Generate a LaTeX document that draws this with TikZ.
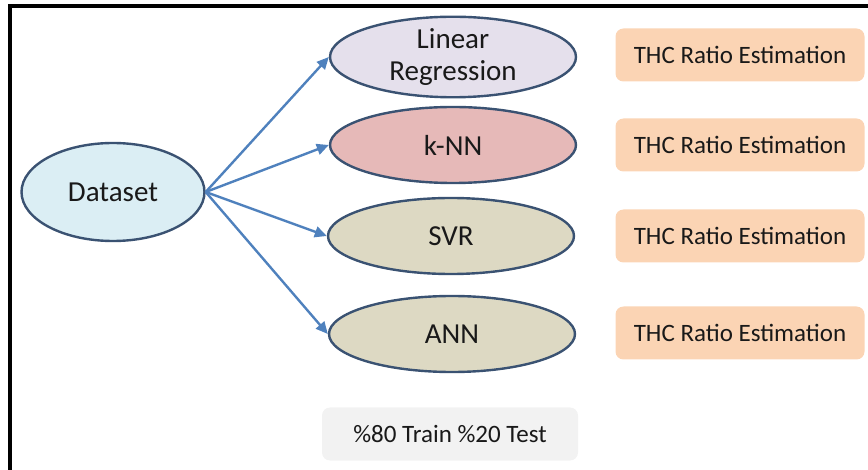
\documentclass[tikz,border=0pt]{standalone}
\usepackage{fontspec}
\setmainfont{Carlito}
\usetikzlibrary{shapes.geometric,arrows.meta}
\definecolor{edgeblue}{RGB}{58,82,114}
\definecolor{arrowblue}{RGB}{79,129,189}
\definecolor{dsfill}{RGB}{219,238,244}
\definecolor{lrfill}{RGB}{229,224,236}
\definecolor{knnfill}{RGB}{230,185,184}
\definecolor{tanfill}{RGB}{221,217,195}
\definecolor{orangefill}{RGB}{251,212,180}
\definecolor{grayfill}{RGB}{242,242,242}
\tikzset{
  model/.style={ellipse, draw=edgeblue, line width=2.4pt, minimum width=246pt, minimum height=76pt, inner sep=0pt, font=\fontsize{29}{32}\selectfont, align=center, text=black!90},
  resbox/.style={rounded corners=8pt, fill=orangefill, minimum width=249pt, minimum height=53pt, inner sep=0pt, font=\fontsize{25}{30}\selectfont, text=black!90},
  notebox/.style={rounded corners=8pt, fill=grayfill, minimum width=256pt, minimum height=53pt, inner sep=0pt, font=\fontsize{25}{30}\selectfont, text=black!90},
  conn/.style={draw=arrowblue, line width=2.4pt, -{Triangle[length=12pt,width=11pt]}}
}
\begin{document}
\begin{tikzpicture}[x=1pt,y=-1pt]
\useasboundingbox (0,0) rectangle (868,470);
\draw[line width=4pt, line join=miter] (10,470) -- (10,6) -- (868,6);
\node[model, fill=dsfill, minimum width=183pt, minimum height=98pt] (ds) at (113,192) {Dataset};
\node[model, fill=lrfill] (lr) at (453,57) {Linear\\Regression};
\node[model, fill=knnfill] (knn) at (453,145) {k-NN};
\node[model, fill=tanfill] (svr) at (451,236) {SVR};
\node[model, fill=tanfill] (ann) at (452,334) {ANN};
\node[resbox] (r1) at (740,55) {THC Ratio Estimation};
\node[resbox] (r2) at (740,145) {THC Ratio Estimation};
\node[resbox] (r3) at (740,236) {THC Ratio Estimation};
\node[resbox] (r4) at (740,333) {THC Ratio Estimation};
\node[notebox] (note) at (450,434) {\%80 Train \%20 Test};
\draw[conn] (ds.east) -- (lr.west);
\draw[conn] (ds.east) -- (knn.west);
\draw[conn] (ds.east) -- (svr.west);
\draw[conn] (ds.east) -- (ann.west);
\end{tikzpicture}
\end{document}
